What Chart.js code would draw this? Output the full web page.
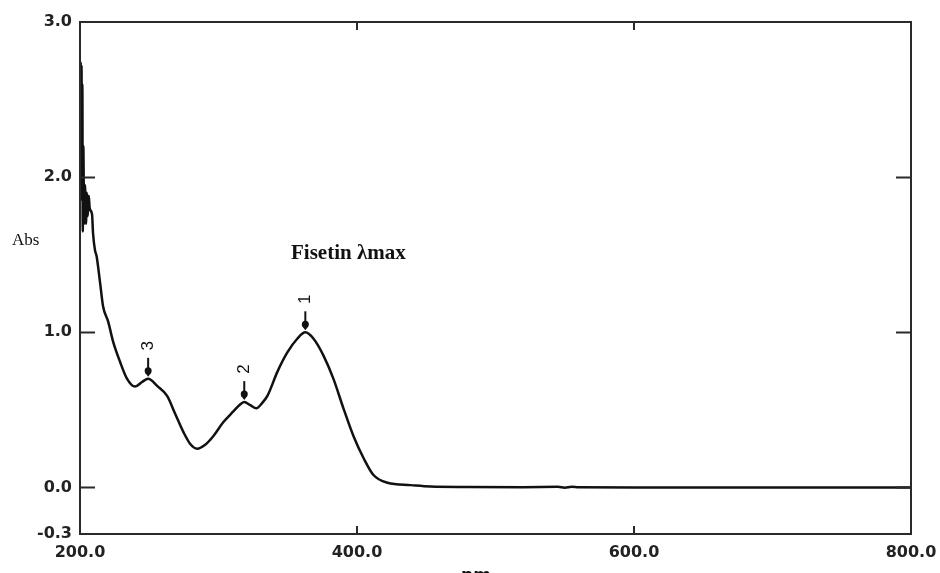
<!DOCTYPE html>
<html>
<head>
<meta charset="utf-8">
<script src="https://cdn.jsdelivr.net/npm/chart.js@4.4.1/dist/chart.umd.min.js"></script>
<style>
  body { margin: 0; background: #fff; }
  #wrap { width: 940px; height: 573px; position: relative; }
</style>
</head>
<body>
<div id="wrap"><canvas id="spectrum"></canvas></div>
<script>
// UV-Vis spectrum of fisetin
const wavelengths = [200.2, 200.5, 200.8, 201.1, 201.4, 201.7, 202, 202.4, 203, 203.6, 204.3, 205, 205.6, 206.3, 207, 208.7, 209.4, 210.8, 212, 214.5, 216.6, 220.3, 223.9, 228.9, 234, 239.8, 244.8, 249.2, 255.7, 262.9, 268.7, 274.5, 279.6, 284.6, 290.4, 296.2, 303.4, 310.7, 315, 318.6, 323, 327.3, 331.6, 335.3, 342.5, 349.7, 357, 362.7, 368.5, 375.8, 383, 390.2, 397.5, 404.7, 411.9, 422, 438.7, 453, 480, 520, 545, 550, 555, 560, 600, 700, 800];
const absorbance = [2.1, 2.74, 1.9, 2.72, 1.85, 2.6, 1.65, 2.2, 1.7, 1.95, 1.7, 1.9, 1.75, 1.88, 1.8, 1.76, 1.64, 1.53, 1.49, 1.32, 1.17, 1.07, 0.94, 0.81, 0.70, 0.65, 0.68, 0.70, 0.655, 0.59, 0.475, 0.36, 0.28, 0.25, 0.275, 0.33, 0.42, 0.49, 0.53, 0.55, 0.53, 0.51, 0.545, 0.59, 0.745, 0.87, 0.96, 1.0, 0.96, 0.85, 0.70, 0.51, 0.33, 0.19, 0.08, 0.03, 0.015, 0.006, 0.003, 0.002, 0.004, -0.002, 0.004, 0.001, 0, 0, 0];

// picked peaks
const peakNm = [362.7, 318.6, 249.2];
const peakAbs = [1.0, 0.55, 0.70];
const peakLabels = ['1', '2', '3'];

const xTicks = [200, 400, 600, 800];
const yTicks = [-0.3, 0, 1, 2, 3];

const points = wavelengths.map((w, i) => ({x: w, y: absorbance[i]}));

// frame, inward ticks, peak arrows and loose labels
const decorations = {
  id: 'decorations',
  afterDatasetsDraw(chart) {
    const ctx = chart.ctx;
    const a = chart.chartArea;
    const xs = chart.scales.x, ys = chart.scales.y;
    ctx.save();
    ctx.strokeStyle = '#2a2a2a';
    ctx.lineWidth = 2;
    ctx.strokeRect(a.left, a.top, a.right - a.left, a.bottom - a.top);
    ctx.beginPath();
    yTicks.forEach(v => {
      if (v <= ys.min || v >= ys.max) return;
      const py = Math.round(ys.getPixelForValue(v)) + 0.5;
      ctx.moveTo(a.left, py); ctx.lineTo(a.left + 15, py);
      ctx.moveTo(a.right, py); ctx.lineTo(a.right - 15, py);
    });
    xTicks.forEach(v => {
      if (v <= xs.min || v >= xs.max) return;
      const px = Math.round(xs.getPixelForValue(v));
      ctx.moveTo(px, a.top); ctx.lineTo(px, a.top + 8);
      ctx.moveTo(px, a.bottom); ctx.lineTo(px, a.bottom - 8);
    });
    ctx.stroke();

    // peak arrows
    ctx.fillStyle = '#111';
    ctx.strokeStyle = '#111';
    peakNm.forEach((nm, i) => {
      const px = xs.getPixelForValue(nm);
      const py = ys.getPixelForValue(peakAbs[i]);
      ctx.lineWidth = 2;
      ctx.beginPath();
      ctx.moveTo(px, py - 21); ctx.lineTo(px, py - 4);
      ctx.stroke();
      ctx.beginPath();
      ctx.arc(px, py - 8, 3.5, 0, Math.PI * 2);
      ctx.fill();
      ctx.beginPath();
      ctx.moveTo(px - 3, py - 6); ctx.lineTo(px + 3, py - 6); ctx.lineTo(px, py - 2);
      ctx.fill();
      ctx.save();
      ctx.translate(px, py - 33);
      ctx.rotate(-Math.PI / 2);
      ctx.font = '17px "Liberation Sans"';
      ctx.textAlign = 'center';
      ctx.textBaseline = 'middle';
      ctx.fillText(peakLabels[i], 0, 0);
      ctx.restore();
    });
    ctx.restore();
  },
  afterDraw(chart) {
    const ctx = chart.ctx;
    ctx.save();
    ctx.fillStyle = '#111';
    ctx.textBaseline = 'middle';
    ctx.font = '17px "Liberation Serif"';
    ctx.textAlign = 'left';
    ctx.fillText('Abs', 12, 241);
    ctx.font = 'bold 21px "Liberation Serif"';
    ctx.fillText('Fisetin λmax', 291, 254);
    ctx.font = 'bold 17px "DejaVu Sans"';
    ctx.textAlign = 'center';
    ctx.fillText('nm', 476, 577);
    ctx.restore();
  }
};

const config = {
  type: 'line',
  data: {
    datasets: [{
      label: 'Fisetin',
      data: points,
      borderColor: '#111',
      borderWidth: 2.5,
      pointRadius: 0,
      fill: false,
      cubicInterpolationMode: 'monotone'
    }]
  },
  options: {
    responsive: true,
    maintainAspectRatio: false,
    animation: false,
    layout: { padding: { top: 22, right: 29, left: 0, bottom: 0 } },
    plugins: { legend: { display: false }, tooltip: { enabled: false } },
    scales: {
      x: {
        type: 'linear',
        min: 200,
        max: 800,
        afterBuildTicks: s => { s.ticks = xTicks.map(v => ({value: v})); },
        afterFit: s => { s.height = 39; s.paddingLeft = 0; s.paddingRight = 0; },
        grid: { display: false, drawTicks: false },
        border: { display: false },
        ticks: {
          padding: 9,
          color: '#222',
          maxRotation: 0,
          font: { family: 'DejaVu Sans', size: 16, weight: 'bold' },
          callback: v => v.toFixed(1)
        }
      },
      y: {
        type: 'linear',
        min: -0.3,
        max: 3,
        afterBuildTicks: s => { s.ticks = yTicks.map(v => ({value: v})); },
        afterFit: s => { s.width = 80; s.paddingTop = 0; s.paddingBottom = 0; },
        grid: { display: false, drawTicks: false },
        border: { display: false },
        ticks: {
          padding: 8,
          color: '#222',
          font: { family: 'DejaVu Sans', size: 16, weight: 'bold' },
          callback: v => v.toFixed(1)
        }
      }
    }
  },
  plugins: [decorations]
};

const spectrumChart = new Chart(document.getElementById('spectrum'), config);
</script>
</body>
</html>
